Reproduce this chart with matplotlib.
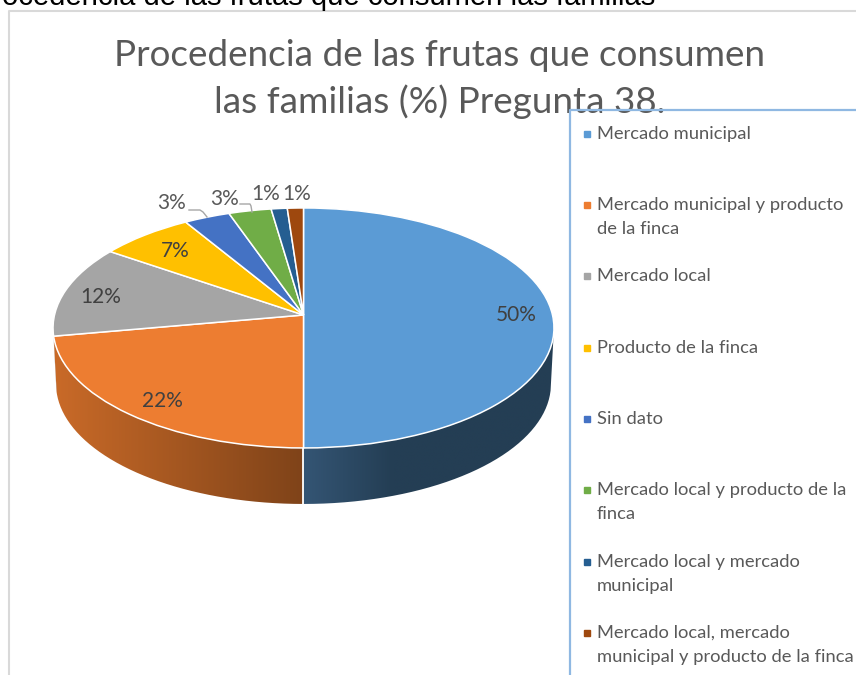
import numpy as np
import matplotlib
matplotlib.use("Agg")
import matplotlib.pyplot as plt
from matplotlib.colors import to_rgb
from matplotlib.patches import PathPatch
from matplotlib.path import Path
from matplotlib.transforms import Transform

categories = [
    "Mercado municipal",
    "Mercado municipal y producto\nde la finca",
    "Mercado local",
    "Producto de la finca",
    "Sin dato",
    "Mercado local y producto de la\nfinca",
    "Mercado local y mercado\nmunicipal",
    "Mercado local, mercado\nmunicipal y producto de la finca",
]
values = [50.0, 22.2, 12.4, 6.75, 3.3, 3.05, 1.15, 1.15]
colors = ["#5b9bd5", "#ed7d31", "#a5a5a5", "#ffc000", "#4472c4", "#70ad47", "#255e91", "#9e480e"]
# left and right colour of the side wall, per slice
wall_left = ["#345574", "#c96a28", "#8a8a8a", "#000000", "#000000", "#000000", "#000000", "#000000"]
wall_right = ["#243e54", "#7f4319", "#8a8a8a", "#000000", "#000000", "#000000", "#000000", "#000000"]

title = "Procedencia de las frutas que consumen\nlas familias (%) Pregunta 38."
clipped_heading = "ocedencia de las frutas que consumen las familias"

# pixel layout of the picture
label_xy = [(516, 315), (162, 401), (101, 297), (175, 251), (172, 203), (225, 199), (265.5, 194), (297, 194)]
legend_y = [134, 205, 276, 348, 419, 490, 562, 633]
apex_x, apex_y = 303.5, 315
rx, ry, tilt, depth = 249, 118.6, 0.108, 56

TEXT = "#595959"
plt.rcParams["font.family"] = ["Lato", "DejaVu Sans"]


class TiltedDisc(Transform):
    """Unit disc seen in perspective, result in picture pixels."""
    input_dims = 2
    output_dims = 2
    is_separable = False

    def transform_non_affine(self, xy):
        xy = np.asarray(xy, dtype=float)
        w = 1 + tilt * xy[:, 1]
        return np.column_stack([apex_x + rx * xy[:, 0] / w, apex_y - ry * xy[:, 1] / w])


def rim(theta_deg, drop=0.0):
    t = np.radians(theta_deg)
    pts = TiltedDisc().transform_non_affine(np.column_stack([np.cos(t), np.sin(t)]))
    if drop:
        # bottom edge comes in a little at the sides
        pts[:, 0] = apex_x + (pts[:, 0] - apex_x) * 0.988
        pts[:, 1] = pts[:, 1] + drop
    return pts


fig = plt.figure(figsize=(8.56, 6.75), dpi=100)
ax = fig.add_axes([0, 0, 1, 1])

disc = TiltedDisc()
wedges, _ = ax.pie(values, colors=colors, startangle=90, counterclock=False,
                   wedgeprops=dict(edgecolor="white", linewidth=1.1))
ax.set_aspect("auto")
ax.axis("off")
for w in wedges:
    w.set_transform(disc + ax.transData)
    w.set_zorder(3)

# side wall, only the part of each slice on the front of the disc
sil = np.degrees(np.arcsin(tilt))
front_lo, front_hi = 180 + sil, 360 - sil
for w, cl, cr in zip(wedges, wall_left, wall_right):
    a, b = w.theta1 % 360, w.theta2 % 360
    if b <= a:
        b += 360
    lo, hi = max(a, front_lo), min(b, front_hi)
    if hi <= lo:
        continue
    t = np.linspace(lo, hi, 80)
    top = rim(t)
    low = rim(t, depth)
    poly = np.vstack([top, low[::-1]])
    patch = PathPatch(Path(poly, closed=False), transform=ax.transData, fc="none", ec="none")
    ax.add_patch(patch)
    grad = np.linspace(0, 1, 128)[None, :, None]
    c0, c1 = np.array(to_rgb(cl)), np.array(to_rgb(cr))
    if cl == wall_left[0]:
        # blue wall goes flat after about a third
        grad = np.clip(grad * 2.8, 0, 1)
    img = c0 + (c1 - c0) * grad
    x0, x1 = poly[:, 0].min(), poly[:, 0].max()
    y0, y1 = poly[:, 1].min(), poly[:, 1].max()
    im = ax.imshow(img, extent=(x0, x1, y1, y0), aspect="auto", zorder=2, interpolation="bilinear")
    im.set_clip_path(patch)
    if abs(lo - 270) < 1:
        ax.plot([top[0, 0], low[0, 0]], [top[0, 1], low[0, 1]], color="white", lw=1.3, zorder=2.5)

ax.set_xlim(0, 856)
ax.set_ylim(675, 0)

# outer frame of the chart and the heading above it
ax.plot([9, 9, 856], [675, 11, 11], color="#d9d9d9", lw=1.5, zorder=1)
ax.text(2, 5, clipped_heading, family="Liberation Sans", fontsize=21.1, color="black",
        ha="left", va="baseline", zorder=1, clip_on=True)

ax.text(439.5, 56, title.split("\n")[0], fontsize=26.6, color=TEXT,
        ha="center", va="center", zorder=4)
ax.text(439.5, 102, title.split("\n")[1], fontsize=26.6, color=TEXT,
        ha="center", va="center", zorder=4)

# data labels
for v, (lx, ly) in zip(values, label_xy):
    ax.text(lx, ly, f"{v:.0f}%", fontsize=15, color="#404040" if ly > 240 else TEXT,
            ha="center", va="center", zorder=5)
ax.plot([189, 200, 203, 207], [210, 210, 212, 217], color="#a6a6a6", lw=1, zorder=4)
ax.plot([240, 250, 251, 252], [204, 204, 206, 212], color="#a6a6a6", lw=1, zorder=4)

# legend box, drawn over the title
ax.plot([570, 570, 856], [675, 110, 110], color="#8fb8e2", lw=1.6, zorder=6)
for name, c, ly in zip(categories, colors, legend_y):
    ax.plot([587], [ly], marker="s", ms=4.4, mfc=c, mec=c, ls="none", zorder=6)
    for i, line in enumerate(name.split("\n")):
        ax.text(597, ly + 24.3 * i, line, fontsize=13.25, color=TEXT, ha="left", va="center", zorder=6)

fig.savefig("out.png", dpi=100)
